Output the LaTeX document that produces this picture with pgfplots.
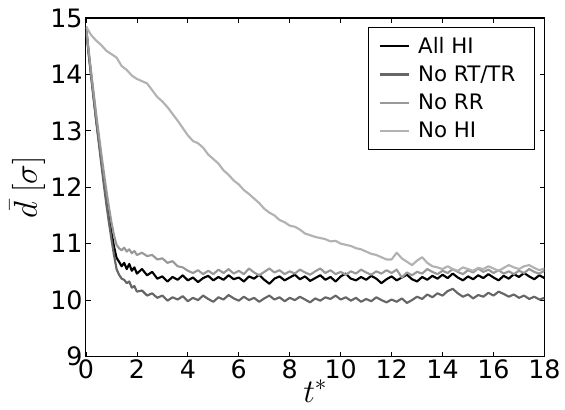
\documentclass[border=0pt]{standalone}
\usepackage{fontspec}
\setmainfont{DejaVu Sans}
\usepackage{pgfplots}
\pgfplotsset{compat=1.18}
\definecolor{cAll}{gray}{0.0}
\definecolor{cRT}{gray}{0.40}
\definecolor{cRR}{gray}{0.60}
\definecolor{cNo}{gray}{0.70}

\begin{document}
\begin{tikzpicture}
\begin{axis}[
    scale only axis,
    width=344pt, height=254pt,
    xmin=0, xmax=18, ymin=9, ymax=15,
    xtick={0,2,...,18}, ytick={9,10,...,15},
    tick align=inside, major tick length=3.5pt,
    tick style={black, line width=0.6pt},
    axis line style={line width=0.8pt},
    /pgf/number format/assume math mode=true,
    tick label style={font=\fontsize{19}{22}\selectfont},
    xticklabel style={yshift=1pt},
    yticklabel style={xshift=1pt},
    xlabel={$t^*$}, ylabel={$\bar{d}\;[\sigma]$},
    label style={font=\fontsize{23}{26}\selectfont},
    xlabel style={yshift=6pt},
    ylabel style={yshift=-3pt},
    legend style={at={(rel axis cs:0.978,0.973)}, anchor=north east,
        draw=black, line width=0.6pt, fill=white,
        font=\fontsize{16}{19}\selectfont,
        row sep=4pt, inner xsep=8pt, inner ysep=5pt,
        nodes={inner xsep=6pt}},
    legend cell align=left,
    legend image code/.code={\draw[#1, line width=1.6pt] (0pt,0pt) -- (22pt,0pt);},
    every axis plot/.append style={line width=1.6pt, line join=round},
]
\addplot[cAll] coordinates {
(0,14.85) (0.1,14.4) (0.2,14.0) (0.3,13.6) (0.4,13.2) (0.5,12.85) (0.6,12.5) (0.7,12.15)
(0.8,11.8) (0.9,11.5) (1.0,11.2) (1.1,10.95) (1.2,10.75) (1.3,10.68) (1.4,10.6) (1.5,10.66)
(1.6,10.55) (1.7,10.64) (1.8,10.52) (1.9,10.58) (2.0,10.47)
(2.2,10.55) (2.4,10.44) (2.6,10.5) (2.8,10.38) (3.0,10.42) (3.2,10.33) (3.4,10.41) (3.6,10.36)
(3.8,10.44) (4.0,10.35) (4.2,10.4) (4.4,10.32) (4.6,10.39) (4.8,10.43) (5.0,10.35) (5.2,10.41)
(5.4,10.36) (5.6,10.44) (5.8,10.37) (6.0,10.4) (6.2,10.33) (6.4,10.42) (6.6,10.38) (6.8,10.45)
(7.0,10.36) (7.2,10.29) (7.4,10.38) (7.6,10.42) (7.8,10.35) (8.0,10.4) (8.2,10.45) (8.4,10.37)
(8.6,10.42) (8.8,10.34) (9.0,10.39) (9.2,10.44) (9.4,10.36) (9.6,10.41) (9.8,10.33) (10.0,10.42)
(10.2,10.47) (10.4,10.38) (10.6,10.35) (10.8,10.41) (11.0,10.36) (11.2,10.43) (11.4,10.38) (11.6,10.3)
(11.8,10.37) (12.0,10.42) (12.2,10.35) (12.4,10.4) (12.6,10.45) (12.8,10.37) (13.0,10.33) (13.2,10.41)
(13.4,10.36) (13.6,10.43) (13.8,10.38) (14.0,10.45) (14.2,10.39) (14.4,10.47) (14.6,10.4) (14.8,10.35)
(15.0,10.42) (15.2,10.37) (15.4,10.44) (15.6,10.39) (15.8,10.46) (16.0,10.4) (16.2,10.35) (16.4,10.43)
(16.6,10.38) (16.8,10.46) (17.0,10.41) (17.2,10.48) (17.4,10.42) (17.6,10.37) (17.8,10.44) (18.0,10.39)
};
\addlegendentry{All HI}
\addplot[cRT] coordinates {
(0,14.85) (0.1,14.4) (0.2,13.98) (0.3,13.58) (0.4,13.18) (0.5,12.8) (0.6,12.42) (0.7,12.05)
(0.8,11.7) (0.9,11.38) (1.0,11.08) (1.1,10.8) (1.2,10.55) (1.3,10.45) (1.4,10.38) (1.5,10.36)
(1.6,10.3) (1.7,10.33) (1.8,10.22) (1.9,10.25) (2.0,10.15)
(2.2,10.17) (2.4,10.08) (2.6,10.12) (2.8,10.04) (3.0,10.08) (3.2,9.99) (3.4,10.05) (3.6,10.01)
(3.8,10.07) (4.0,9.98) (4.2,10.04) (4.4,10.0) (4.6,10.08) (4.8,10.02) (5.0,9.97) (5.2,10.05)
(5.4,10.01) (5.6,10.09) (5.8,10.03) (6.0,9.99) (6.2,10.06) (6.4,10.0) (6.6,10.04) (6.8,9.97)
(7.0,10.03) (7.2,10.08) (7.4,10.01) (7.6,10.05) (7.8,9.98) (8.0,10.04) (8.2,10.0) (8.4,10.06)
(8.6,10.01) (8.8,9.96) (9.0,10.03) (9.2,9.99) (9.4,10.05) (9.6,10.02) (9.8,10.08) (10.0,10.01)
(10.2,10.05) (10.4,9.99) (10.6,10.04) (10.8,9.97) (11.0,10.02) (11.2,9.98) (11.4,10.05) (11.6,10.0)
(11.8,9.96) (12.0,10.01) (12.2,9.97) (12.4,10.03) (12.6,9.95) (12.8,10.0) (13.0,10.06) (13.2,10.02)
(13.4,10.1) (13.6,10.05) (13.8,10.12) (14.0,10.08) (14.2,10.16) (14.4,10.2) (14.6,10.12) (14.8,10.06)
(15.0,10.1) (15.2,10.03) (15.4,10.09) (15.6,10.06) (15.8,10.13) (16.0,10.08) (16.2,10.15) (16.4,10.11)
(16.6,10.06) (16.8,10.1) (17.0,10.04) (17.2,10.08) (17.4,10.02) (17.6,10.06) (17.8,10.01) (18.0,10.04)
};
\addlegendentry{No RT/TR}
\addplot[cRR] coordinates {
(0,14.85) (0.1,14.45) (0.2,14.05) (0.3,13.68) (0.4,13.3) (0.5,12.95) (0.6,12.6) (0.7,12.27)
(0.8,11.95) (0.9,11.65) (1.0,11.38) (1.1,11.15) (1.2,10.98) (1.3,10.92) (1.4,10.88) (1.5,10.93)
(1.6,10.86) (1.7,10.9) (1.8,10.83) (1.9,10.87) (2.0,10.8)
(2.2,10.84) (2.4,10.78) (2.6,10.8) (2.8,10.72) (3.0,10.74) (3.2,10.66) (3.4,10.69) (3.6,10.6)
(3.8,10.58) (4.0,10.52) (4.2,10.48) (4.4,10.53) (4.6,10.46) (4.8,10.52) (5.0,10.46) (5.2,10.54)
(5.4,10.48) (5.6,10.55) (5.8,10.47) (6.0,10.52) (6.2,10.46) (6.4,10.56) (6.6,10.49) (6.8,10.44)
(7.0,10.5) (7.2,10.56) (7.4,10.49) (7.6,10.53) (7.8,10.46) (8.0,10.51) (8.2,10.47) (8.4,10.54)
(8.6,10.49) (8.8,10.45) (9.0,10.51) (9.2,10.56) (9.4,10.48) (9.6,10.53) (9.8,10.46) (10.0,10.5)
(10.2,10.45) (10.4,10.51) (10.6,10.47) (10.8,10.54) (11.0,10.49) (11.2,10.45) (11.4,10.51) (11.6,10.47)
(11.8,10.53) (12.0,10.48) (12.2,10.54) (12.4,10.4) (12.6,10.49) (12.8,10.44) (13.0,10.5) (13.2,10.47)
(13.4,10.55) (13.6,10.5) (13.8,10.46) (14.0,10.52) (14.2,10.48) (14.4,10.55) (14.6,10.5) (14.8,10.46)
(15.0,10.53) (15.2,10.49) (15.4,10.56) (15.6,10.5) (15.8,10.54) (16.0,10.48) (16.2,10.53) (16.4,10.47)
(16.6,10.51) (16.8,10.46) (17.0,10.52) (17.2,10.48) (17.4,10.55) (17.6,10.5) (17.8,10.47) (18.0,10.52)
};
\addlegendentry{No RR}
\addplot[cNo] coordinates {
(0,14.85) (0.2,14.7) (0.4,14.6) (0.6,14.52) (0.8,14.42) (1.0,14.36) (1.2,14.3) (1.4,14.15)
(1.6,14.08) (1.8,13.98) (2.0,13.92) (2.2,13.88) (2.4,13.84) (2.6,13.72) (2.8,13.6) (3.0,13.52)
(3.2,13.42) (3.4,13.3) (3.6,13.18) (3.8,13.05) (4.0,12.92) (4.2,12.82) (4.4,12.78) (4.6,12.7)
(4.8,12.58) (5.0,12.5) (5.2,12.42) (5.4,12.3) (5.6,12.22) (5.8,12.12) (6.0,12.05) (6.2,11.95)
(6.4,11.88) (6.6,11.8) (6.8,11.72) (7.0,11.62) (7.2,11.55) (7.4,11.5) (7.6,11.42) (7.8,11.38)
(8.0,11.32) (8.2,11.3) (8.4,11.25) (8.6,11.18) (8.8,11.15) (9.0,11.12) (9.2,11.1) (9.4,11.08)
(9.6,11.04) (9.8,11.05) (10.0,11.0) (10.2,10.98) (10.4,10.96) (10.6,10.92) (10.8,10.9) (11.0,10.86)
(11.2,10.82) (11.4,10.8) (11.6,10.76) (11.8,10.72) (12.0,10.72) (12.2,10.84) (12.4,10.74) (12.6,10.68)
(12.8,10.62) (13.0,10.7) (13.2,10.76) (13.4,10.66) (13.6,10.6) (13.8,10.58) (14.0,10.55) (14.2,10.6)
(14.4,10.55) (14.6,10.52) (14.8,10.58) (15.0,10.55) (15.2,10.52) (15.4,10.57) (15.6,10.55) (15.8,10.6)
(16.0,10.56) (16.2,10.52) (16.4,10.57) (16.6,10.62) (16.8,10.58) (17.0,10.55) (17.2,10.6) (17.4,10.62)
(17.6,10.57) (17.8,10.53) (18.0,10.56)
};
\addlegendentry{No HI}
\end{axis}
\path ([shift={(-64.5pt,-39.75pt)}]current axis.south west) rectangle ([shift={(15pt,13.5pt)}]current axis.north east);
\end{tikzpicture}
\end{document}
